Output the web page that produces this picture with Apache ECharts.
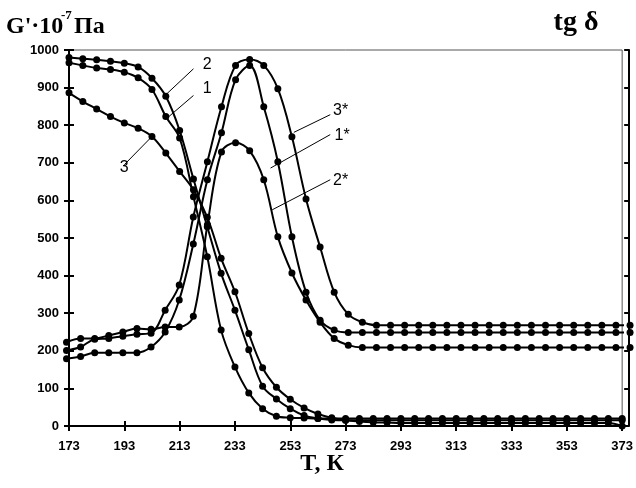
<!DOCTYPE html>
<html>
<head>
<meta charset="utf-8">
<script src="https://cdn.jsdelivr.net/npm/echarts@6/dist/echarts.min.js"></script>
<style>
 html, body { margin: 0; padding: 0; background: #fff; }
 #chart { width: 636px; height: 488px; }
</style>
</head>
<body>
<div id="chart"></div>
<script>
// temperature, K (every point of every curve)
const temps = [173, 178, 183, 188, 193, 198, 203, 208, 213, 218, 223, 228, 233, 238, 243, 248, 253, 258, 263, 268,
 273, 278, 283, 288, 293, 298, 303, 308, 313, 318, 323, 328, 333, 338, 343, 348, 353, 358, 363, 368, 373];

// G'·10^-7, Pa (left axis)
const gCurve1 = [966, 959, 952, 948, 941, 926, 895, 823, 766, 610, 450, 255, 157, 88, 46, 26, 22, 21, 20, 20,
 20, 20, 20, 20, 20, 20, 20, 20, 20, 20, 20, 20, 20, 20, 20, 20, 20, 20, 20, 20, 20];
const gCurve2 = [980, 977, 974, 970, 965, 955, 925, 877, 786, 657, 530, 406, 308, 203, 106, 72, 46, 28, 20, 16,
 15, 15, 15, 15, 15, 15, 15, 15, 15, 15, 15, 15, 15, 15, 15, 15, 15, 15, 15, 15, 15];
const gCurve3 = [886, 863, 843, 823, 806, 792, 770, 726, 677, 628, 555, 446, 357, 246, 155, 103, 71, 48, 32, 22,
 15, 12, 10, 9, 8, 8, 8, 8, 8, 8, 8, 8, 8, 8, 8, 8, 8, 8, 8, 8, 0];

// tg delta (right axis, unlabelled)
const tgCurve1 = [0.179, 0.185, 0.195, 0.195, 0.195, 0.195, 0.210, 0.250, 0.335, 0.484, 0.655, 0.780, 0.921, 0.959, 0.849, 0.703, 0.503, 0.356, 0.281, 0.255,
 0.249, 0.249, 0.249, 0.249, 0.249, 0.249, 0.249, 0.249, 0.249, 0.249, 0.249, 0.249, 0.249, 0.249, 0.249, 0.249, 0.249, 0.249, 0.249, 0.249, 0.249];
const tgCurve2 = [0.223, 0.233, 0.233, 0.241, 0.250, 0.259, 0.257, 0.263, 0.263, 0.292, 0.535, 0.729, 0.753, 0.732, 0.655, 0.503, 0.407, 0.335, 0.276, 0.233,
 0.215, 0.209, 0.209, 0.209, 0.209, 0.209, 0.209, 0.209, 0.209, 0.209, 0.209, 0.209, 0.209, 0.209, 0.209, 0.209, 0.209, 0.209, 0.209, 0.209, 0.209];
const tgCurve3 = [0.201, 0.210, 0.231, 0.233, 0.239, 0.244, 0.247, 0.308, 0.375, 0.556, 0.703, 0.849, 0.959, 0.975, 0.959, 0.897, 0.769, 0.604, 0.476, 0.356,
 0.297, 0.276, 0.268, 0.268, 0.268, 0.268, 0.268, 0.268, 0.268, 0.268, 0.268, 0.268, 0.268, 0.268, 0.268, 0.268, 0.268, 0.268, 0.268, 0.268, 0.268];

// curve labels with leader lines, in data units of the curve's own axes
const curveNotes = [
 { name: '1',  from: [7.39, 816], to: [9.14, 879], at: [9.64, 897] },
 { name: '2',  from: [7.14, 881], to: [9.47, 950], at: [9.96, 961] },
 { name: '3',  from: [4.03, 695], to: [6.06, 770], at: [3.56, 687] },
 { name: '1*', from: [245.4, 0.686], to: [266.6, 0.775], at: [270.8, 0.772] },
 { name: '2*', from: [246.0, 0.575], to: [266.6, 0.655], at: [270.3, 0.652] },
 { name: '3*', from: [253.7, 0.781], to: [266.6, 0.828], at: [270.3, 0.839] },
];

const narrow = "'Liberation Sans Narrow', 'Arial Narrow', 'Liberation Sans', sans-serif";
const serif = "'Liberation Serif', 'Times New Roman', serif";
const black = '#000';

function noteFor(name) {
 const n = curveNotes.find(c => c.name === name);
 return {
 markLine: {
 silent: true,
 animation: false,
 symbol: ['none', 'none'],
 lineStyle: { color: black, width: 1, type: 'solid' },
 label: { show: false },
 emphasis: { disabled: true },
 data: [[{ coord: n.from }, { coord: n.to }]],
 },
 markPoint: {
 silent: true,
 animation: false,
 symbol: 'circle',
 symbolSize: 0,
 itemStyle: { color: 'transparent' },
 label: {
 show: true, position: 'inside', formatter: n.name,
 color: black, fontSize: 16, fontFamily: "'Liberation Sans', Arial, sans-serif",
 },
 data: [{ coord: n.at, value: n.name }],
 },
 };
}

function curve(name, data, isTg) {
 return Object.assign({
 name,
 type: 'line',
 xAxisIndex: isTg ? 1 : 0,
 yAxisIndex: isTg ? 1 : 0,
 data: isTg ? temps.map((t, i) => [t, data[i]]) : data,
 smooth: 0.35,
 clip: false,
 symbol: 'circle',
 symbolSize: 7,
 showAllSymbol: true,
 lineStyle: { color: black, width: 2 },
 itemStyle: { color: black },
 emphasis: { disabled: true },
 }, noteFor(name));
}

const chart = echarts.init(document.getElementById('chart'), null, { renderer: 'canvas' });

const series = [
 curve('1', gCurve1, false),
 curve('2', gCurve2, false),
 curve('3', gCurve3, false),
 curve('1*', tgCurve1, true),
 curve('2*', tgCurve2, true),
 curve('3*', tgCurve3, true),
];

const tickStyle = { color: black, width: 2 };

chart.setOption({
 animation: false,
 backgroundColor: '#fff',
 grid: { left: 69, right: 11, top: 50, bottom: 62, show: true, borderColor: '#555', borderWidth: 1 },
 xAxis: [
 {
 type: 'category', data: temps, boundaryGap: false, position: 'bottom',
 axisLine: { lineStyle: { color: black, width: 2 } },
 axisTick: { interval: 3, length: 5, lineStyle: tickStyle },
 axisLabel: { interval: 3, margin: 14, color: black, fontSize: 13, fontWeight: 'bold', fontFamily: narrow },
 splitLine: { show: false },
 },
 // tg delta curves sit on a slightly wider hidden x scale
 { type: 'value', show: false, position: 'bottom', min: 173.88, max: 370.2 },
 {
 type: 'category', data: temps, boundaryGap: false, position: 'bottom',
 axisLine: { show: false },
 axisTick: { inside: true, interval: 3, length: 5, lineStyle: tickStyle },
 axisLabel: { show: false },
 splitLine: { show: false },
 },
 ],
 yAxis: [
 {
 type: 'value', min: 0, max: 1000, interval: 100, position: 'left',
 axisLine: { show: true, lineStyle: { color: black, width: 2 } },
 axisTick: { show: true, length: 5, lineStyle: tickStyle },
 axisLabel: { margin: 10, color: black, fontSize: 13, fontWeight: 'bold', fontFamily: narrow, formatter: v => String(v) },
 splitLine: { show: false },
 },
 {
 type: 'value', min: 0, max: 1, interval: 0.1, position: 'right', offset: 7,
 axisLine: { show: true, lineStyle: { color: black, width: 2 } },
 axisTick: { show: true, inside: true, length: 5, lineStyle: tickStyle },
 axisLabel: { show: false },
 splitLine: { show: false },
 },
 {
 type: 'value', min: 0, max: 1000, interval: 100, position: 'left',
 axisLine: { show: false },
 axisTick: { show: true, inside: true, length: 5, lineStyle: tickStyle },
 axisLabel: { show: false },
 splitLine: { show: false },
 },
 ],
 graphic: [
 { type: 'text', x: 6, y: 15, style: { text: "G'·10", font: 'bold 24px ' + serif, fill: black, align: 'left', verticalAlign: 'top' } },
 { type: 'text', x: 61, y: 9, style: { text: '-7', font: 'bold 13px ' + serif, fill: black, align: 'left', verticalAlign: 'top' } },
 { type: 'text', x: 74, y: 15, style: { text: 'Па', font: 'bold 24px ' + serif, fill: black, align: 'left', verticalAlign: 'top' } },
 { type: 'text', x: 576, y: 9, style: { text: 'tg δ', font: 'bold 28px ' + serif, fill: black, align: 'center', verticalAlign: 'top' } },
 { type: 'text', x: 322, y: 452, style: { text: 'T, К', font: 'bold 24px ' + serif, fill: black, align: 'center', verticalAlign: 'top' } },
 ],
 series,
});
</script>
</body>
</html>
